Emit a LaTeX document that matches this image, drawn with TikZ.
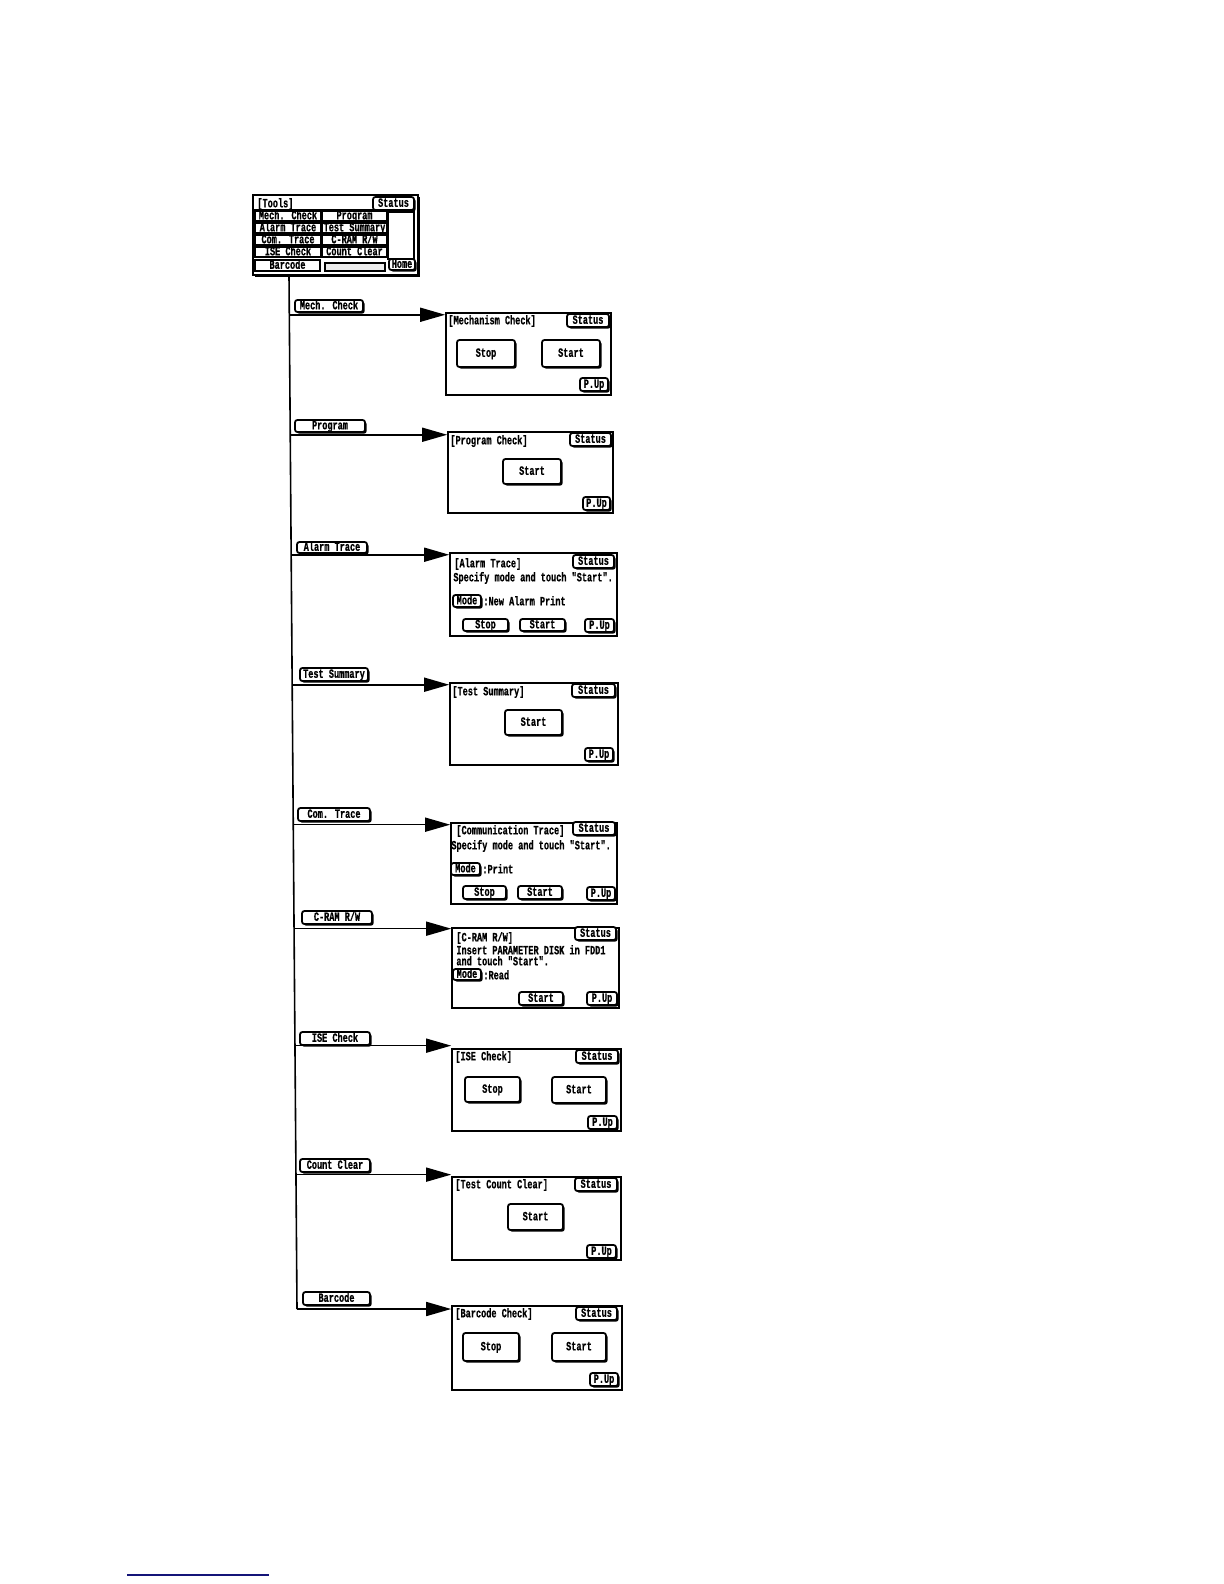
\documentclass[tikz,border=0pt]{standalone}
\usepackage{fontspec}
\usetikzlibrary{arrows.meta,calc,fit,shadows}
\newfontfamily\scrfont[FakeStretch=0.68,FakeBold=0.6]{Liberation Mono}
\newcommand\scr{\scrfont\bfseries\fontsize{6.3}{7}\selectfont}
\definecolor{rulecol}{RGB}{20,20,120}
\newcommand\bx[7]{%
  \path (#3,#4) coordinate (#2-a) (#5,#6) coordinate (#2-b);
  \node[#1, fit=(#2-a)(#2-b)] (#2) {};
  \node[anchor=mid, inner sep=0pt, font=\scr] (#2-t) at ($(#2.center)+(0,-1)$) {#7};}
\tikzset{
  screen/.style={draw, line width=0.8pt, fill=white, inner sep=0pt},
  btn/.style={draw, line width=0.9pt, rounded corners=1.2pt, fill=white, inner sep=0pt,
    drop shadow={shadow xshift=0.8pt, shadow yshift=-0.8pt, opacity=1, fill=black}},
  cell/.style={draw, line width=0.9pt, fill=white, inner sep=0pt},
  graycell/.style={draw, line width=0.6pt, fill=gray!15, inner sep=0pt},
  frame/.style={draw, line width=0.8pt, fill=white, inner sep=0pt,
    drop shadow={shadow xshift=0.8pt, shadow yshift=-0.8pt, opacity=1, fill=black}},
  txt/.style={anchor=mid west, inner sep=0pt, font=\scr},
  trunk/.style={line width=0.8pt},
  arr/.style={line width=0.8pt, -{Triangle[length=12.5pt,width=7pt]}}
}
\begin{document}
\begin{tikzpicture}[x=0.5pt,y=-0.5pt]
\useasboundingbox (0,0) rectangle (1224,1584);

% ---------- Tools menu ----------
\bx{frame}{tools}{253}{195}{418}{275}{}
\node[txt] (toolst) at (257,203) {[Tools]};
\bx{btn}{tstat}{373}{197}{414}{210}{Status}
\draw[line width=0.8pt] (tools.west |- 0,210) -- (387,210);
\bx{cell}{m1}{255}{211}{321}{221}{Mech. Check}
\bx{cell}{m2}{322}{211}{387}{221}{Program}
\bx{cell}{m3}{255}{223}{321}{233}{Alarm Trace}
\bx{cell}{m4}{322}{223}{387}{233}{Test Summary}
\bx{cell}{m5}{255}{235}{321}{245}{Com. Trace}
\bx{cell}{m6}{322}{235}{387}{245}{C-RAM R/W}
\bx{cell}{m7}{255}{247}{321}{257}{ISE Check}
\bx{cell}{m8}{322}{247}{387}{257}{Count Clear}
\bx{cell}{m9}{255}{260}{320}{271}{Barcode}
\bx{graycell}{m10}{325}{263}{385}{271}{}
\bx{cell}{mr}{388}{212}{414}{259}{}
\bx{btn}{home}{389}{259}{415}{270}{Home}

% ---------- trunk ----------
\coordinate (tt) at (289,275);
\coordinate (tb) at (297,1309);
\draw[trunk] (tt) -- (tb);

% ---------- 1 Mechanism Check ----------
\bx{btn}{l1}{295}{300}{363}{312}{Mech. Check}
\bx{screen}{s1}{446}{313}{611}{395}{}
\node[txt] (s1t) at (448,320) {[Mechanism Check]};
\bx{btn}{s1st}{567}{314}{609}{327}{Status}
\bx{btn}{s1a}{457}{340}{515}{367}{Stop}
\bx{btn}{s1b}{542}{340}{600}{367}{Start}
\bx{btn}{s1p}{580}{378}{608}{391}{P.Up}
\coordinate (b1) at ($(tt)!(0,317)!(tb)$);
\draw[arr] (b1) -- (s1.west |- b1);

% ---------- 2 Program Check ----------
\bx{btn}{l2}{295}{420}{365}{432}{Program}
\bx{screen}{s2}{448}{432}{613}{513}{}
\node[txt] (s2t) at (450,440) {[Program Check]};
\bx{btn}{s2st}{570}{433}{611}{446}{Status}
\bx{btn}{s2b}{503}{459}{561}{484}{Start}
\bx{btn}{s2p}{583}{497}{610}{510}{P.Up}
\coordinate (b2) at ($(tt)!(0,437)!(tb)$);
\draw[arr] (b2) -- (s2.west |- b2);

% ---------- 3 Alarm Trace ----------
\bx{btn}{l3}{297}{542}{367}{553}{Alarm Trace}
\bx{screen}{s3}{450}{553}{617}{636}{}
\node[txt] (s3t) at (454,563) {[Alarm Trace]};
\node[txt] (s3u) at (453,577) {Specify mode and touch "Start".};
\bx{btn}{s3st}{573}{555}{614}{568}{Status}
\bx{btn}{s3m}{453}{595}{481}{607}{Mode}
\node[txt] (s3v) at (483,601) {:New Alarm Print};
\bx{btn}{s3a}{463}{619}{508}{631}{Stop}
\bx{btn}{s3b}{520}{619}{565}{631}{Start}
\bx{btn}{s3p}{585}{619}{614}{632}{P.Up}
\coordinate (b3) at ($(tt)!(0,557)!(tb)$);
\draw[arr] (b3) -- (s3.west |- b3);

% ---------- 4 Test Summary ----------
\bx{btn}{l4}{300}{668}{368}{681}{Test Summary}
\bx{screen}{s4}{450}{683}{618}{765}{}
\node[txt] (s4t) at (452,691) {[Test Summary]};
\bx{btn}{s4st}{572}{684}{615}{697}{Status}
\bx{btn}{s4b}{505}{710}{562}{735}{Start}
\bx{btn}{s4p}{585}{748}{613}{761}{P.Up}
\coordinate (b4) at ($(tt)!(0,687)!(tb)$);
\draw[arr] (b4) -- (s4.west |- b4);

% ---------- 5 Communication Trace ----------
\bx{btn}{l5}{298}{808}{370}{821}{Com. Trace}
\bx{screen}{s5}{451}{823}{617}{904}{}
\node[txt] (s5t) at (456,830) {[Communication Trace]};
\node[txt] (s5u) at (451,845) {Specify mode and touch "Start".};
\bx{btn}{s5st}{573}{822}{615}{835}{Status}
\bx{btn}{s5m}{451}{863}{480}{875}{Mode}
\node[txt] (s5v) at (482,869) {:Print};
\bx{btn}{s5a}{463}{886}{506}{899}{Stop}
\bx{btn}{s5b}{518}{886}{562}{899}{Start}
\bx{btn}{s5p}{587}{887}{615}{900}{P.Up}
\coordinate (b5) at ($(tt)!(0,827)!(tb)$);
\draw[arr] (b5) -- (s5.west |- b5);

% ---------- 6 C-RAM R/W ----------
\bx{btn}{l6}{302}{911}{372}{924}{C-RAM R/W}
\bx{screen}{s6}{452}{928}{619}{1008}{}
\node[txt] (s6t) at (456,937) {[C-RAM R/W]};
\node[txt] (s6u) at (456,950) {Insert PARAMETER DISK in FDD1};
\node[txt] (s6w) at (456,961) {and touch "Start".};
\bx{btn}{s6st}{575}{927}{616}{940}{Status}
\bx{btn}{s6m}{453}{969}{481}{980}{Mode}
\node[txt] (s6v) at (483,975) {:Read};
\bx{btn}{s6b}{519}{992}{563}{1005}{Start}
\bx{btn}{s6p}{587}{992}{617}{1005}{P.Up}
\coordinate (b6) at ($(tt)!(0,931)!(tb)$);
\draw[arr] (b6) -- (s6.west |- b6);

% ---------- 7 ISE Check ----------
\bx{btn}{l7}{300}{1032}{370}{1045}{ISE Check}
\bx{screen}{s7}{452}{1049}{621}{1131}{}
\node[txt] (s7t) at (455,1056) {[ISE Check]};
\bx{btn}{s7st}{576}{1050}{618}{1063}{Status}
\bx{btn}{s7a}{465}{1077}{520}{1102}{Stop}
\bx{btn}{s7b}{552}{1077}{606}{1103}{Start}
\bx{btn}{s7p}{588}{1116}{617}{1129}{P.Up}
\coordinate (b7) at ($(tt)!(0,1048)!(tb)$);
\draw[arr] (b7) -- (s7.west |- b7);

% ---------- 8 Test Count Clear ----------
\bx{btn}{l8}{300}{1159}{370}{1172}{Count Clear}
\bx{screen}{s8}{452}{1177}{621}{1260}{}
\node[txt] (s8t) at (455,1184) {[Test Count Clear]};
\bx{btn}{s8st}{575}{1178}{617}{1191}{Status}
\bx{btn}{s8b}{508}{1204}{563}{1230}{Start}
\bx{btn}{s8p}{587}{1245}{616}{1258}{P.Up}
\coordinate (b8) at ($(tt)!(0,1177)!(tb)$);
\draw[arr] (b8) -- (s8.west |- b8);

% ---------- 9 Barcode Check ----------
\bx{btn}{l9}{303}{1292}{370}{1305}{Barcode}
\bx{screen}{s9}{452}{1306}{622}{1390}{}
\node[txt] (s9t) at (455,1313) {[Barcode Check]};
\bx{btn}{s9st}{576}{1307}{617}{1320}{Status}
\bx{btn}{s9a}{463}{1333}{519}{1361}{Stop}
\bx{btn}{s9b}{552}{1333}{606}{1361}{Start}
\bx{btn}{s9p}{590}{1373}{618}{1386}{P.Up}
\draw[arr] (tb) -- (s9.west |- tb);

% ---------- footnote rule ----------
\draw[rulecol, line width=0.6pt] (127,1575) -- (269,1575);
\end{tikzpicture}
\end{document}
